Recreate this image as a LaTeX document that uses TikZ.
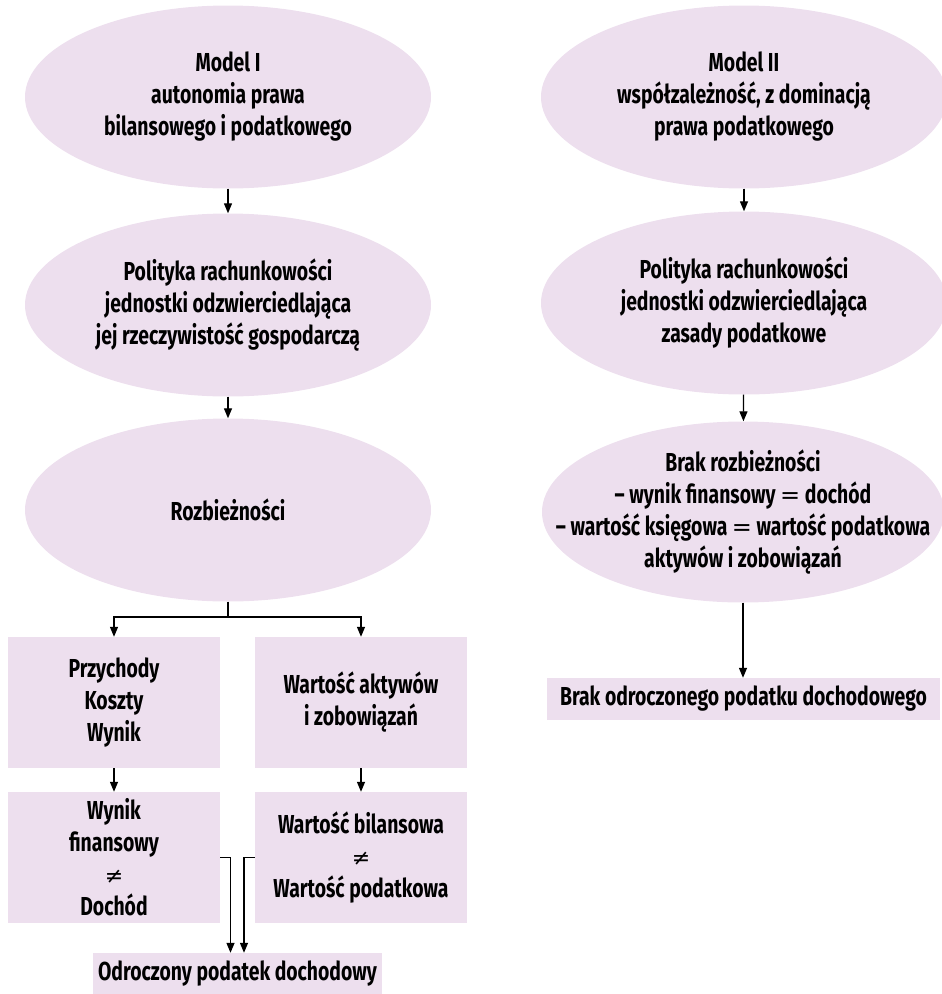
\documentclass[tikz,border=0pt]{standalone}
\usepackage{fontspec}
\setmainfont{Fira Sans}[FakeStretch=0.745]
\newfontfamily\symfam{DejaVu Sans}
\newcommand{\nesym}{{\symfam\mdseries\fontsize{22}{32}\selectfont ≠}}
\newcommand{\eqsym}{{\symfam\mdseries\fontsize{24}{32}\selectfont =}}
\usetikzlibrary{shapes.geometric,arrows.meta}
\definecolor{lav}{RGB}{237,223,238}
\tikzset{
  txt/.style={align=center, text=black, font=\fontsize{26}{32}\selectfont\bfseries},
  oval/.style={ellipse, fill=lav, minimum width=406pt, minimum height=183pt, inner sep=0pt, txt},
  panel/.style={rectangle, fill=lav, inner sep=0pt, txt},
  conn/.style={line width=1.3pt, -{Triangle[length=10pt,width=8pt]}},
  plain/.style={line width=1.3pt}
}
\begin{document}
\begin{tikzpicture}[x=1pt,y=1pt]
\useasboundingbox (0,0) rectangle (942,-994);

% Model I column
\node[oval] (m1) at (228,-97) {Model I\\autonomia prawa\\bilansowego i podatkowego};
\node[oval] (p1) at (228,-305) {Polityka rachunkowości\\jednostki odzwierciedlająca\\jej rzeczywistość gospodarczą};
\node[oval] (r1) at (228,-510) {Rozbieżności};

\node[panel, minimum width=212pt, minimum height=131pt] (a) at (114,-702.5) {Przychody\\Koszty\\Wynik};
\node[panel, minimum width=212pt, minimum height=131pt] (b) at (361,-702.5) {Wartość aktywów\\i zobowiązań};
\node[panel, minimum width=212pt, minimum height=131pt] (c) at (114,-857.5) {Wynik\\finansowy\\\nesym\\Dochód};
\node[panel, minimum width=212pt, minimum height=131pt] (d) at (361,-857.5) {Wartość bilansowa\\\nesym\\Wartość podatkowa};
\node[panel, minimum width=289pt, minimum height=42pt] (e) at (237.5,-974) {Odroczony podatek dochodowy};

% Model II column
\node[oval] (m2) at (744,-97) {Model II\\współzależność, z dominacją\\prawa podatkowego};
\node[oval] (p2) at (744,-303) {Polityka rachunkowości\\jednostki odzwierciedlająca\\zasady podatkowe};
% the widest text line runs past the ellipse's inscribed box: negative padding keeps the outline at its set size
\node[oval, minimum width=402pt, minimum height=181pt, inner xsep=-58pt, inner ysep=-12pt] (q2) at (743,-512) {Brak rozbieżności\\– wynik finansowy \eqsym{} dochód\\– wartość księgowa \eqsym{} wartość podatkowa\\aktywów i zobowiązań};
\node[panel, minimum width=393pt, minimum height=42pt] (f) at (743.5,-699) {Brak odroczonego podatku dochodowego};

% connectors, Model I
\draw[conn] (m1) -- (p1);
\draw[conn] (p1) -- (r1);
\coordinate (split) at (228,-617);
\draw[plain] (r1.south) -- (split);
\draw[conn] (split) -| (a.north);
\draw[conn] (split) -| (b.north);
\draw[conn] (a) -- (c);
\draw[conn] (b) -- (d);
\draw[conn] (c.east) -| ([xshift=-7pt]e.north);
\draw[conn] (d.west) -| ([xshift=6.5pt]e.north);

% connectors, Model II
\draw[conn] (m2) -- (p2);
\draw[conn] (p2) -- (q2);
\draw[conn] (q2.south) -- (q2.south |- f.north);
\end{tikzpicture}
\end{document}
